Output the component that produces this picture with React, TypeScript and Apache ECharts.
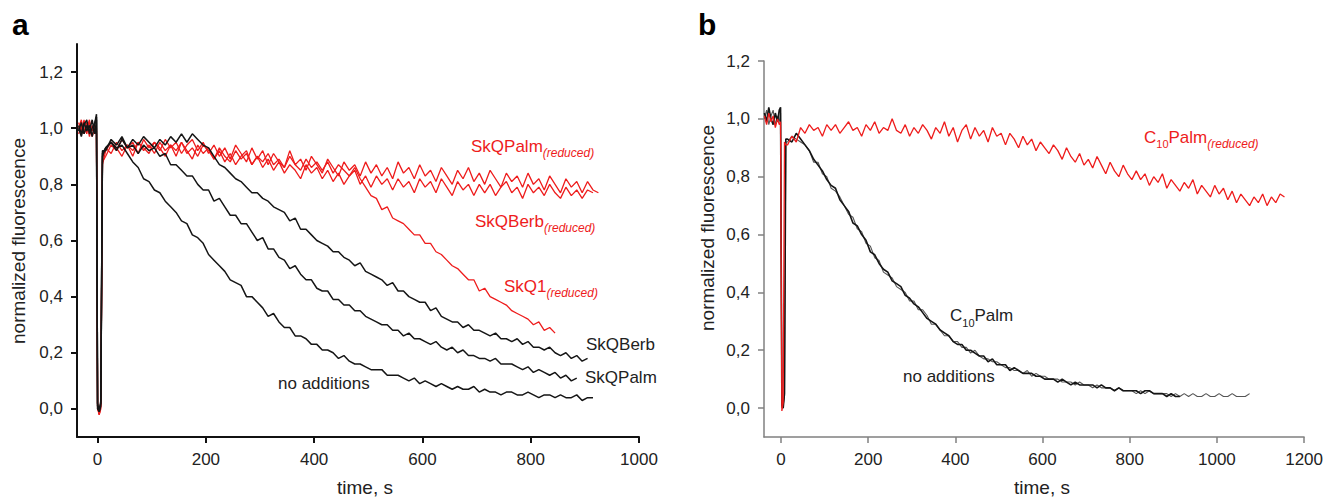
import { useEffect, useRef } from 'react';
import * as echarts from 'echarts';

const FF = '"Liberation Sans", Arial, Helvetica, sans-serif';
const RED = '#ee1c1c';
const BLACK = '#151515';

// ---------- panel a ----------
const TIME_A = [
  -35, -30, -25, -20, -15, -10, -5, -2, 0, 3, 6, 9,
  15, 25, 35, 45, 55, 65, 75, 85, 95, 105,
  115, 125, 135, 145, 155, 165, 175, 185, 195, 205,
  215, 225, 235, 245, 255, 265, 275, 285, 295, 305,
  315, 325, 335, 345, 355, 365, 375, 385, 395, 405,
  415, 425, 435, 445, 455, 465, 475, 485, 495, 505,
  515, 525, 535, 545, 555, 565, 575, 585, 595, 605,
  615, 625, 635, 645, 655, 665, 675, 685, 695, 705,
  715, 725, 735, 745, 755, 765, 775, 785, 795, 805,
  815, 825, 835, 845, 855, 865, 875, 885, 895, 905,
  915, 925,
];

const A_NO_ADDITIONS = [
  1.01, 0.98, 1.02, 0.99, 1.01, 0.97, 1.02, 1.04, 0.02, -0.01, 0.01, 0.90,
  0.93, 0.95, 0.93, 0.94, 0.91, 0.88, 0.86, 0.82, 0.81, 0.78,
  0.77, 0.74, 0.72, 0.70, 0.67, 0.66, 0.62, 0.61, 0.59, 0.55,
  0.53, 0.51, 0.49, 0.46, 0.45, 0.44, 0.40, 0.40, 0.38, 0.36,
  0.33, 0.34, 0.31, 0.29, 0.29, 0.26, 0.26, 0.25, 0.23, 0.23,
  0.21, 0.21, 0.20, 0.18, 0.19, 0.17, 0.16, 0.16, 0.15, 0.14,
  0.14, 0.14, 0.12, 0.12, 0.12, 0.11, 0.10, 0.11, 0.09, 0.10,
  0.09, 0.08, 0.09, 0.08, 0.07, 0.08, 0.07, 0.07, 0.08, 0.06,
  0.07, 0.06, 0.06, 0.05, 0.06, 0.06, 0.05, 0.05, 0.06, 0.05,
  0.04, 0.05, 0.05, 0.04, 0.05, 0.04, 0.04, 0.05, 0.03, 0.04,
  0.04,
];

const A_SKQPALM = [
  0.99, 1.02, 0.98, 1.01, 0.99, 1.03, 0.98, 1.03, 0.01, 0.0, 0.02, 0.91,
  0.93, 0.95, 0.92, 0.96, 0.93, 0.94, 0.91, 0.94, 0.92, 0.93,
  0.90, 0.91, 0.87, 0.87, 0.85, 0.83, 0.83, 0.80, 0.78, 0.78,
  0.74, 0.75, 0.72, 0.69, 0.69, 0.66, 0.66, 0.63, 0.60, 0.61,
  0.57, 0.57, 0.54, 0.53, 0.50, 0.51, 0.48, 0.46, 0.46, 0.43,
  0.42, 0.42, 0.39, 0.39, 0.37, 0.37, 0.35, 0.35, 0.33, 0.32,
  0.31, 0.30, 0.30, 0.28, 0.28, 0.26, 0.27, 0.25, 0.25, 0.24,
  0.23, 0.24, 0.22, 0.21, 0.22, 0.20, 0.21, 0.19, 0.19, 0.18,
  0.18, 0.17, 0.18, 0.16, 0.16, 0.16, 0.15, 0.14, 0.15, 0.13,
  0.14, 0.13, 0.12, 0.13, 0.11, 0.12, 0.10, 0.11,
];

const A_SKQBERB = [
  1.0, 0.97, 1.01, 1.03, 0.98, 1.0, 1.02, 1.05, 0.0, -0.01, 0.03, 0.92,
  0.92, 0.96, 0.94, 0.97, 0.93, 0.96, 0.94, 0.97, 0.95, 0.93,
  0.96, 0.94, 0.97, 0.95, 0.98, 0.95, 0.98, 0.96, 0.94, 0.93,
  0.90, 0.87, 0.86, 0.84, 0.82, 0.81, 0.79, 0.77, 0.77, 0.75,
  0.74, 0.72, 0.71, 0.70, 0.67, 0.68, 0.64, 0.64, 0.62, 0.60,
  0.59, 0.58, 0.56, 0.56, 0.54, 0.53, 0.51, 0.52, 0.49, 0.48,
  0.47, 0.46, 0.44, 0.45, 0.42, 0.42, 0.40, 0.39, 0.38, 0.38,
  0.35, 0.36, 0.33, 0.32, 0.31, 0.31, 0.29, 0.30, 0.28, 0.28,
  0.27, 0.26, 0.27, 0.25, 0.25, 0.24, 0.25, 0.23, 0.24, 0.22,
  0.22, 0.21, 0.22, 0.20, 0.19, 0.20, 0.18, 0.19, 0.17, 0.18,
];

const A_SKQPALM_RED = [
  1.02, 0.99, 1.03, 0.98, 1.02, 0.99, 1.01, 0.98, 0.02, -0.02, 0.0, 0.88,
  0.90, 0.94, 0.92, 0.96, 0.93, 0.95, 0.91, 0.96, 0.93, 0.95,
  0.92, 0.96, 0.93, 0.95, 0.91, 0.94, 0.96, 0.92, 0.95, 0.91,
  0.94, 0.90, 0.93, 0.89, 0.94, 0.91, 0.88, 0.93, 0.89, 0.92,
  0.87, 0.91, 0.88, 0.86, 0.92, 0.87, 0.89, 0.85, 0.90, 0.87,
  0.84, 0.89, 0.86, 0.83, 0.88, 0.85, 0.87, 0.83, 0.88, 0.84,
  0.87, 0.83, 0.86, 0.82, 0.88, 0.84, 0.86, 0.82, 0.87, 0.83,
  0.85, 0.81, 0.86, 0.83, 0.80, 0.85, 0.82, 0.86, 0.81, 0.84,
  0.80, 0.85, 0.82, 0.79, 0.84, 0.81, 0.83, 0.79, 0.84, 0.80,
  0.82, 0.78, 0.83, 0.80, 0.77, 0.82, 0.79, 0.81, 0.77, 0.81,
  0.78, 0.77,
];

const A_SKQBERB_RED = [
  0.98, 1.01, 0.99, 1.02, 0.97, 1.01, 0.98, 1.0, 0.01, -0.02, 0.01, 0.89,
  0.93, 0.91, 0.95, 0.92, 0.94, 0.90, 0.95, 0.92, 0.94, 0.91,
  0.95, 0.92, 0.94, 0.90, 0.95, 0.92, 0.89, 0.94, 0.91, 0.93,
  0.89, 0.92, 0.88, 0.91, 0.87, 0.90, 0.92, 0.87, 0.90, 0.86,
  0.89, 0.85, 0.88, 0.84, 0.87, 0.85, 0.82, 0.87, 0.84, 0.86,
  0.82, 0.85, 0.81, 0.84, 0.80, 0.83, 0.85, 0.80, 0.83, 0.79,
  0.83, 0.80, 0.82, 0.78, 0.82, 0.79, 0.81, 0.77, 0.82, 0.79,
  0.81, 0.77, 0.82, 0.79, 0.76, 0.81, 0.78, 0.80, 0.76, 0.80,
  0.77, 0.80, 0.76, 0.79, 0.81, 0.77, 0.79, 0.75, 0.80, 0.77,
  0.79, 0.76, 0.80, 0.77, 0.75, 0.79, 0.76, 0.78, 0.75, 0.78,
  0.77,
];

const A_SKQ1_RED = [
  1.0, 1.03, 0.98, 1.0, 1.03, 0.97, 1.0, 0.99, 0.0, -0.02, 0.02, 0.87,
  0.92, 0.95, 0.93, 0.90, 0.94, 0.92, 0.95, 0.93, 0.91, 0.95,
  0.93, 0.90, 0.94, 0.92, 0.95, 0.91, 0.93, 0.90, 0.94, 0.92,
  0.89, 0.93, 0.90, 0.88, 0.92, 0.89, 0.91, 0.87, 0.90, 0.88,
  0.91, 0.87, 0.89, 0.86, 0.90, 0.87, 0.85, 0.89, 0.86, 0.88,
  0.85, 0.88, 0.84, 0.87, 0.85, 0.83, 0.86, 0.82, 0.79, 0.76,
  0.75, 0.71, 0.72, 0.68, 0.67, 0.66, 0.64, 0.62, 0.62, 0.59,
  0.59, 0.56, 0.55, 0.53, 0.51, 0.50, 0.48, 0.46, 0.46, 0.42,
  0.43, 0.40, 0.39, 0.38, 0.37, 0.35, 0.34, 0.33, 0.32, 0.30,
  0.31, 0.28, 0.29, 0.27,
];

// ---------- panel b ----------
const TIME_B = [
  -38, -33, -28, -23, -18, -13, -8, -4, -1, 2, 5, 8, 11,
  15, 25, 35, 45, 55, 65, 75, 85, 95, 105,
  115, 125, 135, 145, 155, 165, 175, 185, 195, 205,
  215, 225, 235, 245, 255, 265, 275, 285, 295, 305,
  315, 325, 335, 345, 355, 365, 375, 385, 395, 405,
  415, 425, 435, 445, 455, 465, 475, 485, 495, 505,
  515, 525, 535, 545, 555, 565, 575, 585, 595, 605,
  615, 625, 635, 645, 655, 665, 675, 685, 695, 705,
  715, 725, 735, 745, 755, 765, 775, 785, 795, 805,
  815, 825, 835, 845, 855, 865, 875, 885, 895, 905,
  915, 925, 935, 945, 955, 965, 975, 985, 995, 1005,
  1015, 1025, 1035, 1045, 1055, 1065, 1075, 1085, 1095, 1105,
  1115, 1125, 1135, 1145, 1155,
];

const B_C10PALM = [
  1.02, 0.99, 1.04, 1.0, 0.98, 1.02, 0.99, 1.03, 1.04, 0.01, 0.0, 0.05, 0.93,
  0.93, 0.92, 0.95, 0.93, 0.91, 0.89, 0.86, 0.84, 0.82, 0.79,
  0.77, 0.76, 0.72, 0.70, 0.68, 0.64, 0.63, 0.60, 0.58, 0.54,
  0.53, 0.50, 0.48, 0.47, 0.44, 0.43, 0.42, 0.39, 0.38, 0.36,
  0.35, 0.33, 0.31, 0.30, 0.29, 0.27, 0.26, 0.25, 0.23, 0.22,
  0.22, 0.20, 0.20, 0.19, 0.18, 0.18, 0.16, 0.17, 0.15, 0.15,
  0.15, 0.13, 0.14, 0.13, 0.12, 0.12, 0.12, 0.11, 0.11, 0.10,
  0.10, 0.10, 0.09, 0.10, 0.09, 0.08, 0.09, 0.08, 0.08, 0.08,
  0.08, 0.07, 0.08, 0.07, 0.07, 0.06, 0.07, 0.06, 0.06, 0.06,
  0.06, 0.05, 0.06, 0.06, 0.05, 0.05, 0.05, 0.04, 0.05, 0.04,
  0.04,
];

const B_NO_ADDITIONS = [
  1.0, 1.03, 0.98, 1.01, 1.03, 0.98, 1.01, 0.99, 1.02, 0.0, 0.01, 0.04, 0.92,
  0.92, 0.94, 0.93, 0.92, 0.91, 0.89, 0.85, 0.85, 0.81, 0.80,
  0.76, 0.75, 0.73, 0.70, 0.67, 0.66, 0.62, 0.61, 0.57, 0.56,
  0.52, 0.51, 0.47, 0.46, 0.45, 0.42, 0.41, 0.40, 0.37, 0.37,
  0.34, 0.34, 0.32, 0.29, 0.29, 0.27, 0.25, 0.25, 0.23, 0.23,
  0.21, 0.21, 0.19, 0.20, 0.18, 0.17, 0.17, 0.16, 0.16, 0.15,
  0.14, 0.14, 0.13, 0.13, 0.12, 0.13, 0.11, 0.12, 0.11, 0.11,
  0.10, 0.10, 0.10, 0.09, 0.09, 0.09, 0.08, 0.09, 0.08, 0.08,
  0.07, 0.08, 0.07, 0.07, 0.07, 0.06, 0.07, 0.06, 0.06, 0.06,
  0.05, 0.06, 0.05, 0.06, 0.05, 0.05, 0.05, 0.05, 0.04, 0.05,
  0.04, 0.05, 0.04, 0.05, 0.04, 0.04, 0.05, 0.04, 0.04, 0.05,
  0.04, 0.04, 0.05, 0.04, 0.04, 0.04, 0.05,
];

const B_C10PALM_RED = [
  1.01, 0.98, 1.02, 0.99, 1.01, 0.97, 1.0, 0.98, 0.99, -0.01, 0.02, 0.92, 0.91,
  0.91, 0.94, 0.92, 0.97, 0.95, 0.98, 0.96, 0.97, 0.94, 0.98,
  0.96, 0.98, 0.95, 0.97, 0.99, 0.96, 0.97, 0.94, 0.98, 0.96,
  0.99, 0.95, 0.97, 0.96, 1.0, 0.96, 0.95, 0.98, 0.94, 0.97,
  0.95, 0.98, 0.96, 0.93, 0.97, 0.95, 0.99, 0.94, 0.97, 0.92,
  0.96, 0.98, 0.93, 0.97, 0.94, 0.96, 0.92, 0.97, 0.94, 0.95,
  0.91, 0.95, 0.93, 0.90, 0.94, 0.91, 0.93, 0.89, 0.92, 0.90,
  0.88, 0.91, 0.89, 0.86, 0.90, 0.87, 0.85, 0.88, 0.84, 0.86,
  0.83, 0.87, 0.84, 0.81, 0.85, 0.82, 0.80, 0.84, 0.81, 0.79,
  0.82, 0.79, 0.81, 0.77, 0.80, 0.78, 0.81, 0.76, 0.79, 0.77,
  0.75, 0.78, 0.76, 0.79, 0.74, 0.77, 0.75, 0.73, 0.77, 0.74,
  0.76, 0.72, 0.75, 0.71, 0.74, 0.72, 0.70, 0.73, 0.71, 0.74,
  0.70, 0.73, 0.71, 0.74, 0.73,
];

// ---------- ticks ----------
const X_TICKS_A = [0, 200, 400, 600, 800, 1000];
const X_TICKS_B = [0, 200, 400, 600, 800, 1000, 1200];
const Y_TICKS = [0, 0.2, 0.4, 0.6, 0.8, 1.0, 1.2];

const pairs = (times: number[], vals: number[]) => vals.map((v, i) => [times[i], v]);

const fmtY = (v: number) => v.toFixed(1).replace('.', ',');
const fmtX = (v: number) => String(Math.round(v));

function axisPair(gi: number, xmin: number, xmax: number, ymin: number, ymax: number, xt: number[], color: string, w: number) {
  const label = { fontSize: 17, fontFamily: FF, color: '#222', margin: 14 };
  const x = {
    type: 'value', gridIndex: gi, min: xmin, max: xmax,
    axisLine: { show: true, onZero: false, lineStyle: { color, width: w } },
    axisTick: { show: true, inside: false, length: 6, customValues: xt, lineStyle: { color, width: w } },
    axisLabel: { ...label, customValues: xt, formatter: fmtX },
    splitLine: { show: false },
  };
  const y = {
    type: 'value', gridIndex: gi, min: ymin, max: ymax,
    axisLine: { show: true, onZero: false, lineStyle: { color, width: w } },
    axisTick: { show: true, inside: false, length: 6, customValues: Y_TICKS, lineStyle: { color, width: w } },
    axisLabel: { ...label, customValues: Y_TICKS, formatter: fmtY },
    splitLine: { show: false },
  };
  return { x, y };
}

function line(idx: number, times: number[], vals: number[], color: string, width: number, z: number) {
  return {
    type: 'line', xAxisIndex: idx, yAxisIndex: idx, data: pairs(times, vals),
    showSymbol: false, symbol: 'none', silent: true, z,
    lineStyle: { color, width }, itemStyle: { color },
  };
}

const RICH = {
  m: { fontSize: 17, fontFamily: FF, lineHeight: 20, verticalAlign: 'top' },
  s: { fontSize: 12, fontFamily: FF, fontStyle: 'italic', lineHeight: 12, padding: [10, 0, 0, 0] },
  n: { fontSize: 11, fontFamily: FF, lineHeight: 11, padding: [11, 0, 0, 0] },
};

function label(x: number, y: number, text: string, color: string) {
  return {
    type: 'text', x, y, silent: true, z: 100,
    style: { text, fill: color, rich: RICH, align: 'left', verticalAlign: 'middle', font: `17px ${FF}` },
  };
}

function plain(x: number, y: number, text: string, color: string, size: number, opts: any = {}) {
  return {
    type: 'text', x, y, silent: true, z: 100, rotation: opts.rotation || 0,
    style: { text, fill: color, font: `${opts.bold ? 'bold ' : ''}${size}px ${FF}`, align: opts.align || 'left', verticalAlign: 'middle' },
  };
}

export default function App() {
  const ref = useRef<HTMLDivElement>(null);
  useEffect(() => {
    if (!ref.current) return;
    const chart = echarts.init(ref.current, undefined, { renderer: 'svg' });
    const a = axisPair(0, -38, 1000, -0.1, 1.3, X_TICKS_A, '#111', 2);
    const b = axisPair(1, -39, 1200, -0.1, 1.2, X_TICKS_B, '#808080', 1.5);
    chart.setOption({
      animation: false,
      backgroundColor: '#ffffff',
      grid: [
        { left: 77, top: 44, width: 562, height: 393 },
        { left: 764, top: 61, width: 541, height: 376 },
      ],
      xAxis: [a.x, b.x],
      yAxis: [a.y, b.y],
      series: [
        line(0, TIME_A, A_SKQPALM_RED, RED, 1.3, 2),
        line(0, TIME_A, A_SKQBERB_RED, RED, 1.3, 2),
        line(0, TIME_A, A_SKQ1_RED, RED, 1.3, 2),
        line(0, TIME_A, A_NO_ADDITIONS, BLACK, 1.5, 3),
        line(0, TIME_A, A_SKQPALM, BLACK, 1.5, 3),
        line(0, TIME_A, A_SKQBERB, BLACK, 1.5, 3),
        line(1, TIME_B, B_NO_ADDITIONS, '#555', 1.1, 2),
        line(1, TIME_B, B_C10PALM, BLACK, 1.6, 3),
        line(1, TIME_B, B_C10PALM_RED, RED, 1.3, 4),
      ],
      graphic: [
        plain(12, 24, 'a', '#000', 30, { bold: true }),
        plain(698, 24, 'b', '#000', 30, { bold: true }),
        plain(18, 241, 'normalized fluorescence', '#222', 19, { rotation: Math.PI / 2, align: 'center' }),
        plain(707, 228, 'normalized fluorescence', '#222', 19, { rotation: Math.PI / 2, align: 'center' }),
        plain(365, 487, 'time, s', '#222', 19, { align: 'center' }),
        plain(1042, 487, 'time, s', '#222', 19, { align: 'center' }),
        label(471, 148, '{m|SkQPalm}{s|(reduced)}', RED),
        label(475, 222.5, '{m|SkQBerb}{s|(reduced)}', RED),
        label(504, 288, '{m|SkQ1}{s|(reduced)}', RED),
        plain(586, 344, 'SkQBerb', '#222', 17),
        plain(585, 377, 'SkQPalm', '#222', 17),
        plain(278, 383, 'no additions', '#222', 17),
        label(1144, 138.5, '{m|C}{n|10}{m|Palm}{s|(reduced)}', RED),
        label(950, 317, '{m|C}{n|10}{m|Palm}', '#222'),
        plain(903, 376, 'no additions', '#222', 17),
      ],
    });
    return () => chart.dispose();
  }, []);
  return <div ref={ref} style={{ position: 'absolute', left: 0, top: 0, width: 1326, height: 498 }} />;
}
